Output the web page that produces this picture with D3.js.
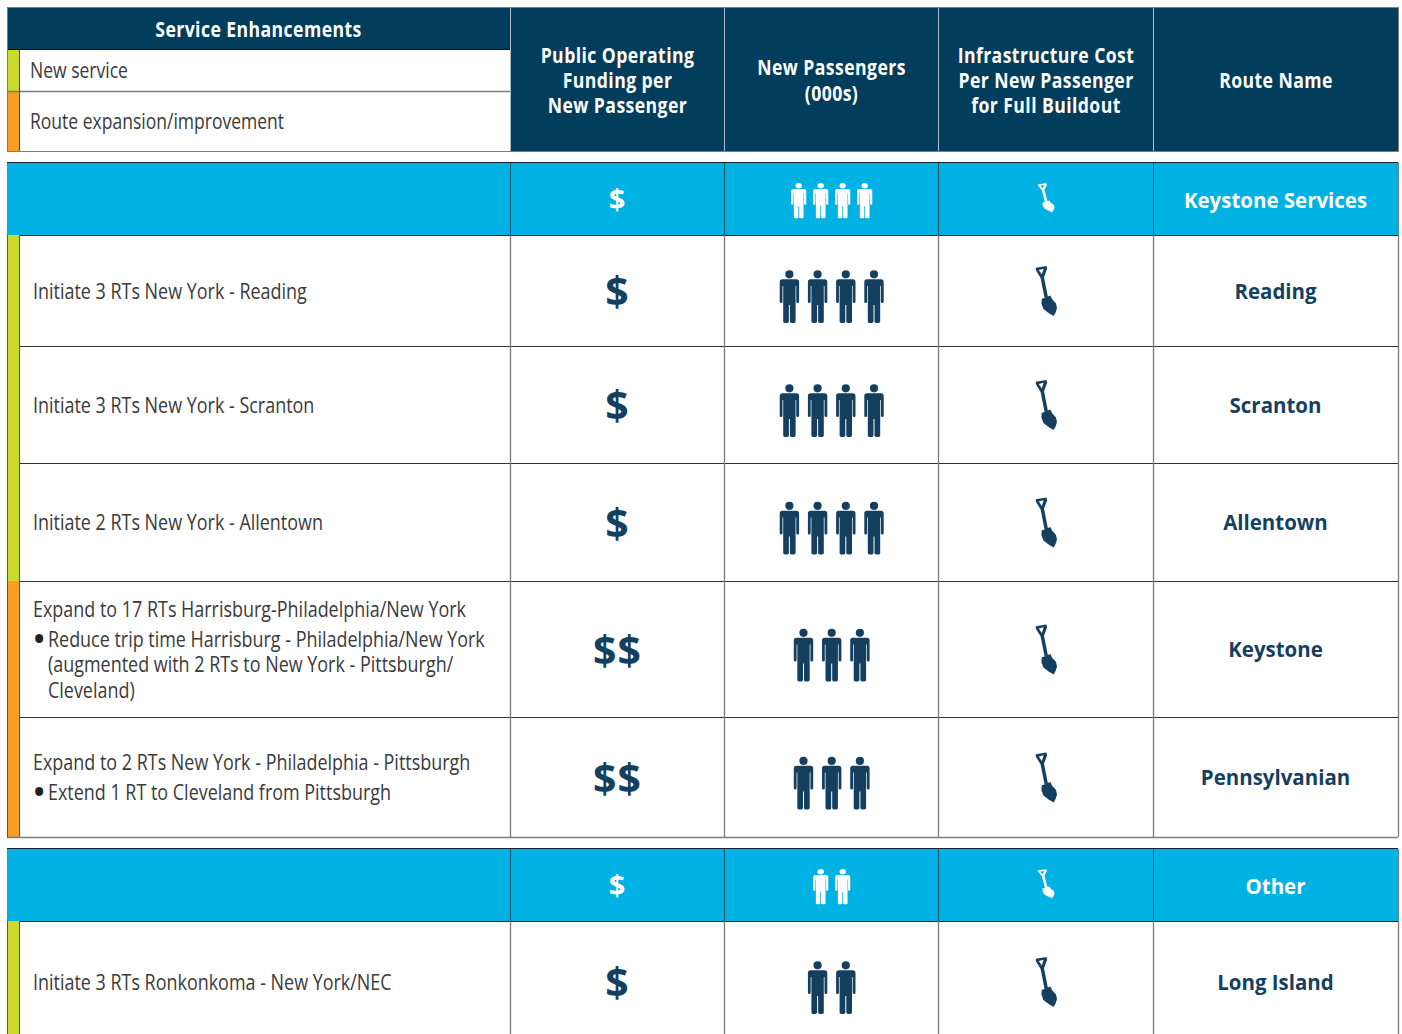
<!DOCTYPE html>
<html>
<head>
<meta charset="utf-8">
<script src="https://cdn.jsdelivr.net/npm/d3@7"></script>
<style>
  html, body { margin: 0; background: #fff; overflow: hidden; }
  text { font-family: "Open Sans", sans-serif; }
</style>
</head>
<body>
<script>
// table content
var headers = [
  ["Public Operating", "Funding per", "New Passenger"],
  ["New Passengers", "(000s)"],
  ["Infrastructure Cost", "Per New Passenger", "for Full Buildout"],
  ["Route Name"]
];
var legendLabels = ["New service", "Route expansion/improvement"];
var legendKinds = ["new", "expand"];

var sections = ["Keystone Services", "Other"];
var sectionDollars = [1, 1];
var sectionPeople = [4, 2];
var sectionShovels = [1, 1];

var routes = ["Reading", "Scranton", "Allentown", "Keystone", "Pennsylvanian", "Long Island"];
var routeKinds = ["new", "new", "new", "expand", "expand", "new"];
var routeDollars = [1, 1, 1, 2, 2, 1];
var routePeople = [4, 4, 4, 3, 3, 2];
var routeShovels = [1, 1, 1, 1, 1, 1];
var routeText = [
  ["Initiate 3 RTs New York - Reading"],
  ["Initiate 3 RTs New York - Scranton"],
  ["Initiate 2 RTs New York - Allentown"],
  ["Expand to 17 RTs Harrisburg-Philadelphia/New York",
   "• Reduce trip time Harrisburg - Philadelphia/New York",
   "  (augmented with 2 RTs to New York - Pittsburgh/",
   "  Cleveland)"],
  ["Expand to 2 RTs New York - Philadelphia - Pittsburgh",
   "• Extend 1 RT to Cleveland from Pittsburgh"],
  ["Initiate 3 RTs Ronkonkoma - New York/NEC"]
];

// layout
var width = 1402, height = 1034;
var colX = [7, 510, 724, 938, 1153, 1398];
var stripeW = 12;
var headTop = 8, headBottom = 151, legendY = [50, 91, 151];
var bands = [[163, 235], [849, 921]];
var rowEdges = [[235, 346], [346, 463], [463, 581], [581, 717], [717, 837], [921, 1042]];

var navy = "#023d5c", cyan = "#00b2e3", ink = "#153f5f", grey = "#7b7b7b", textGrey = "#3a3a3a";
var kindColor = d3.scaleOrdinal().domain(["new", "expand"]).range(["#c9da2a", "#f99d25"]);
var colCenter = function (i) { return (colX[i] + colX[i + 1]) / 2; };

var svg = d3.select("body").append("svg")
    .attr("width", width).attr("height", height)
    .style("display", "block");

function line(x1, y1, x2, y2, color, w) {
  svg.append("line").attr("x1", x1).attr("y1", y1).attr("x2", x2).attr("y2", y2)
      .attr("stroke", color).attr("stroke-width", w || 1);
}

// narrow text: the source face is condensed, so squeeze the glyphs horizontally
function label(txt, x, y, opt) {
  var sx = opt.sx || 1;
  return svg.append("text")
      .attr("transform", "translate(" + x + "," + y + ") scale(" + sx + ",1)")
      .attr("dy", "0.35em")
      .attr("text-anchor", opt.anchor || "middle")
      .attr("font-size", opt.size)
      .attr("font-weight", opt.weight || 400)
      .attr("letter-spacing", opt.spacing || 0)
      .attr("fill", opt.fill)
      .text(txt);
}

var personPath = "M-7 9.3H7Q9.7 9.3 9.7 12V31.8Q9.7 33 8.4 33Q6.9 33 6.9 31.8V16H6.2V35" +
  "V51.6Q6.2 53 4.6 53H2.2Q0.5 53 0.5 51.6V35H-0.5V51.6Q-0.5 53 -2.2 53H-4.6Q-6.2 53 -6.2 51.6V16" +
  "H-6.9V31.8Q-6.9 33 -8.4 33Q-9.7 33 -9.7 31.8V12Q-9.7 9.3 -7 9.3Z" +
  "M4.1 4.3A4.1 4.1 0 1 1 -4.1 4.3A4.1 4.1 0 1 1 4.1 4.3Z";

var shovelPath = "M-10.2 -22.8L0.4 -24.6L1.2 -22L-2 -13.2L1.8 6L4.4 5L6 8.6L10 13L11 17.5L9.6 22L7.6 25.4" +
  "L2.6 22.6L-2.6 18.4L-4.6 13L-4.2 8.2L-1.4 7.6L-5.4 -12.6L-10.2 -20.6Z" +
  "M-7.2 -20.4L-4.2 -16L-2.4 -21.8Z";

function drawPeople(n, cx, cy, kx, ky, spacing, color) {
  var half = (n - 1) * spacing / 2;
  var x = d3.scalePoint().domain(d3.range(n)).range([cx - half, cx + half]);
  svg.append("g").selectAll("path").data(d3.range(n)).join("path")
      .attr("d", personPath)
      .attr("fill", color)
      .attr("transform", function (d) { return "translate(" + x(d) + "," + (cy - 26.5 * ky) + ") scale(" + kx + "," + ky + ")"; });
}

function drawShovel(n, cx, cy, kx, ky, color) {
  svg.append("g").selectAll("path").data(d3.range(n)).join("path")
      .attr("d", shovelPath)
      .attr("fill", color)
      .attr("fill-rule", "evenodd")
      .attr("transform", "translate(" + cx + "," + cy + ") scale(" + kx + "," + ky + ")");
}

function dollars(n) { return d3.range(n).map(function () { return "$"; }).join(""); }

// top header
svg.append("rect").attr("x", colX[0]).attr("y", headTop)
    .attr("width", colX[5] - colX[0]).attr("height", headBottom - headTop).attr("fill", navy);
svg.append("rect").attr("x", colX[0]).attr("y", legendY[0])
    .attr("width", colX[1] - colX[0]).attr("height", legendY[2] - legendY[0]).attr("fill", "#fff");
svg.selectAll("rect.legend").data(legendKinds).join("rect")
    .attr("class", "legend")
    .attr("x", colX[0]).attr("y", function (d, i) { return legendY[i]; })
    .attr("width", stripeW).attr("height", function (d, i) { return legendY[i + 1] - legendY[i]; })
    .attr("fill", function (d) { return kindColor(d); });
line(colX[0], legendY[0] - 0.5, colX[1], legendY[0] - 0.5, "#111");
line(colX[0], legendY[1] + 0.5, colX[1], legendY[1] + 0.5, grey, 1.4);
line(colX[0] + stripeW + 0.5, legendY[0], colX[0] + stripeW + 0.5, legendY[2], "#5a4a20");
label("Service Enhancements", 258.5, 30, { size: 21, weight: 700, fill: "#fff", sx: 0.84, spacing: 0.5 });
legendLabels.forEach(function (t, i) {
  label(t, 30, i === 0 ? 71 : 122, { size: 21, fill: textGrey, anchor: "start", sx: 0.835 });
});
headers.forEach(function (lines, c) {
  lines.forEach(function (t, i) {
    label(t, colCenter(c + 1) + 0.5, 80.5 + (i - (lines.length - 1) / 2) * 25.3, { size: 21, weight: 700, fill: "#fff", sx: 0.84, spacing: 0.5 });
  });
});
colX.slice(1, 5).forEach(function (x) { line(x + 0.5, headTop, x + 0.5, headBottom, "#a9bcc8"); });
svg.append("rect").attr("x", colX[0] + 0.5).attr("y", headTop - 0.5)
    .attr("width", colX[5] - colX[0]).attr("height", headBottom - headTop + 1)
    .attr("fill", "none").attr("stroke", grey);

// section bands
sections.forEach(function (name, s) {
  var b = bands[s], cy = (b[0] + b[1]) / 2;
  svg.append("rect").attr("x", colX[0]).attr("y", b[0])
      .attr("width", colX[5] - colX[0]).attr("height", b[1] - b[0]).attr("fill", cyan);
  label(dollars(sectionDollars[s]), colCenter(1), cy + 1, { size: 29, weight: 700, fill: "#fff" });
  drawPeople(sectionPeople[s], colCenter(2) + 0.7, cy + 1.5, 0.78, 0.67, 22, "#fff");
  drawShovel(sectionShovels[s], colCenter(3) + 0.5, cy - 1.5, 0.78, 0.58, "#fff");
  label(name, colCenter(4), cy + 1.5, { size: 21, weight: 700, fill: "#fff", sx: 0.975 });
  colX.slice(1, 5).forEach(function (x) { line(x + 0.5, b[0], x + 0.5, b[1], "#114f68"); });
  line(colX[0], b[0] - 0.5, colX[5], b[0] - 0.5, "#123");
  line(colX[0], b[1] + 0.5, colX[5], b[1] + 0.5, "#123");
});

// route rows
routes.forEach(function (name, r) {
  var e = rowEdges[r], cy = (e[0] + e[1]) / 2;
  svg.append("rect").attr("x", colX[0]).attr("y", e[0])
      .attr("width", stripeW).attr("height", e[1] - e[0])
      .attr("fill", kindColor(routeKinds[r]));
  line(colX[0] + stripeW + 0.5, e[0], colX[0] + stripeW + 0.5, e[1], "#5a5a2a");

  // description lines: a bullet line gets extra space before it
  var lines = routeText[r], ys = [], y = 0;
  lines.forEach(function (t, i) {
    if (i > 0) y += t.charAt(0) === "•" ? 30 : 25.5;
    ys.push(y);
  });
  var mid = cy + 1 - y / 2;
  lines.forEach(function (t, i) {
    var bullet = t.charAt(0) === "•", indent = t.charAt(0) === " ";
    if (bullet) {
      label("•", 32, mid + ys[i], { size: 38, fill: "#222", anchor: "start" });
      t = t.slice(2);
    }
    if (indent) t = t.trim();
    label(t, bullet || indent ? 48 : 33, mid + ys[i], { size: 21, fill: textGrey, anchor: "start", sx: 0.855 });
  });

  label(dollars(routeDollars[r]), colCenter(1) + 0.5, cy + 1.5, { size: 41, weight: 700, fill: ink, spacing: 1 });
  drawPeople(routePeople[r], colCenter(2) + 0.7, cy + 6, 1, 1, 28.2, ink);
  drawShovel(routeShovels[r], colCenter(3) + 0.5, cy, 1, 1, ink);
  label(name, colCenter(4), cy + 1, { size: 21, weight: 700, fill: ink, sx: 0.975 });

  colX.slice(1, 5).forEach(function (x) { line(x + 0.5, e[0], x + 0.5, e[1], grey, 1.3); });
  if (r < 4) line(colX[0], e[1] + 0.5, colX[5], e[1] + 0.5, "#333");
  if (r === 4) line(colX[0], e[1] + 0.5, colX[5], e[1] + 0.5, grey, 1.4);
  line(colX[0] + 0.5, e[0], colX[0] + 0.5, e[1], "#5a5a2a");
  line(colX[5] + 0.5, e[0], colX[5] + 0.5, e[1], grey, 1.3);
});
sections.forEach(function (name, s) {
  line(colX[0] + 0.5, bands[s][0], colX[0] + 0.5, bands[s][1], "#5b8a9b");
  line(colX[5] + 0.5, bands[s][0], colX[5] + 0.5, bands[s][1], "#5b8a9b");
});
</script>
</body>
</html>
